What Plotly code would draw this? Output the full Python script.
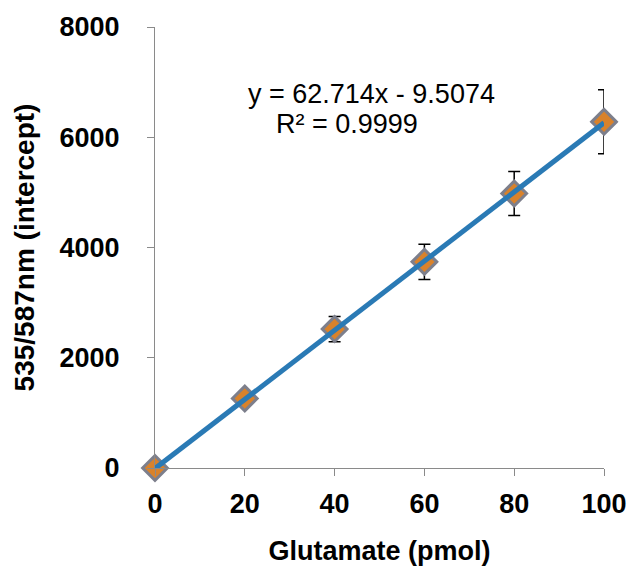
import plotly.graph_objects as go

# Data
glutamate = [0, 20, 40, 60, 80, 100]
signal = [0, 1260, 2520, 3740, 4980, 6280]
signal_err = [0, 70, 230, 320, 400, 580]
slope = 62.714
intercept = -9.5074
r2 = 0.9999
x_ticks = [0, 20, 40, 60, 80, 100]
y_ticks = [0, 2000, 4000, 6000, 8000]

fit_x = [min(glutamate), max(glutamate)]
fit_y = [slope * v + intercept for v in fit_x]

fig = go.Figure()
fig.add_trace(go.Scatter(
    x=glutamate, y=signal, mode="markers",
    marker=dict(symbol="diamond", size=19, color="#D9822B",
                line=dict(color="#7D7F8C", width=3)),
    error_y=dict(type="data", array=signal_err, visible=True,
                 color="black", thickness=1.5, width=6),
    cliponaxis=False, showlegend=False,
))
fig.add_trace(go.Scatter(
    x=fit_x, y=fit_y, mode="lines",
    line=dict(color="#2A7AB5", width=5),
    cliponaxis=False, showlegend=False,
))

axis_common = dict(
    showgrid=False, zeroline=False, showline=True, linecolor="#8A8A8A",
    linewidth=1, ticks="outside", tickcolor="#8A8A8A", ticklen=7,
    tickfont=dict(family="Liberation Sans, Arial", size=27, color="black", weight="bold"),
)

fig.update_layout(
    width=639, height=576,
    margin=dict(l=155, r=32, t=26, b=108),
    paper_bgcolor="white", plot_bgcolor="white",
    xaxis=dict(range=[0, 100], tickvals=x_ticks,
               title=dict(text="Glutamate (pmol)", standoff=22,
                          font=dict(family="Liberation Sans, Arial", size=27, color="black", weight="bold")),
               ticklabelstandoff=5, **axis_common),
    yaxis=dict(range=[0, 8000], tickvals=y_ticks,
               title=dict(text="535/587nm (intercept)", standoff=16,
                          font=dict(family="Liberation Sans, Arial", size=28, color="black", weight="bold")),
               ticklabelstandoff=22, **axis_common),
    annotations=[
        dict(xref="paper", yref="paper", x=0.482, y=0.848, xanchor="center", yanchor="middle",
             text=f"y = {slope}x - {abs(intercept)}", showarrow=False,
             font=dict(family="Liberation Sans, Arial", size=27, color="black")),
        dict(xref="paper", yref="paper", x=0.427, y=0.781, xanchor="center", yanchor="middle",
             text=f"R² = {r2}", showarrow=False,
             font=dict(family="Liberation Sans, Arial", size=27, color="black")),
    ],
)

fig.write_html("out.html")
